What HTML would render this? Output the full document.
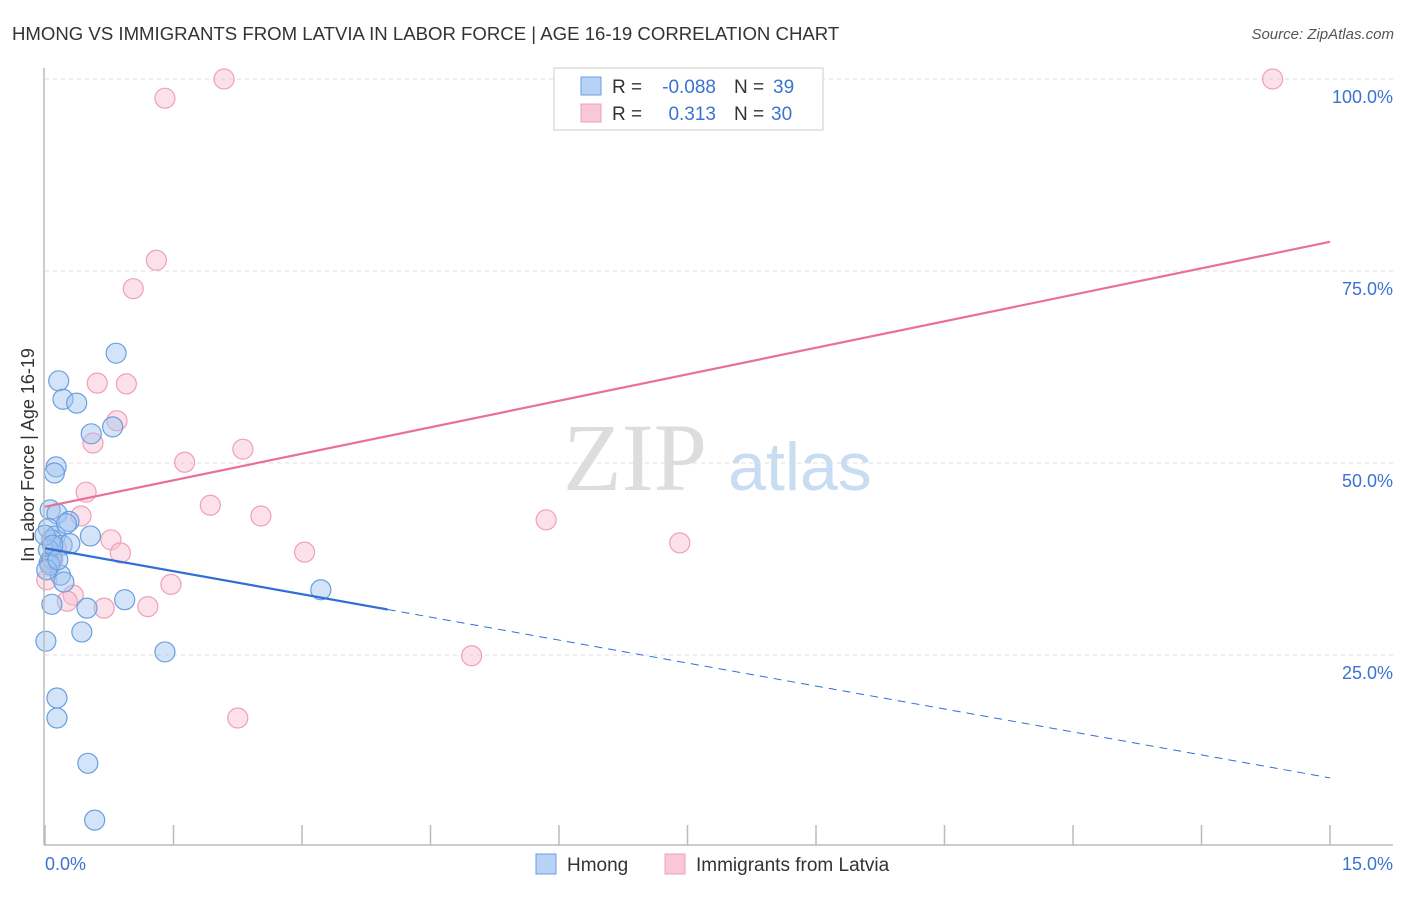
<!DOCTYPE html>
<html><head><meta charset="utf-8"><style>
body{margin:0;background:#fff;font-family:"Liberation Sans",sans-serif}
</style></head><body>
<svg id="c" width="1406" height="892" xmlns="http://www.w3.org/2000/svg" font-family="Liberation Sans, sans-serif">
<text x="12" y="40" font-size="18.6" fill="#333">HMONG VS IMMIGRANTS FROM LATVIA IN LABOR FORCE | AGE 16-19 CORRELATION CHART</text>
<text x="1394" y="39" font-size="15" fill="#555" font-style="italic" text-anchor="end">Source: ZipAtlas.com</text>
<text x="635" y="490" font-size="96" fill="#ddd" font-family="Liberation Serif, serif" text-anchor="middle">ZIP</text>
<text x="800" y="490" font-size="68" fill="#c8dcf2" text-anchor="middle">atlas</text>
<g id="grid"></g><g id="marks"></g>
<line x1="44" y1="68" x2="44" y2="845" stroke="#bbb" stroke-width="1.5"/>
<line x1="44" y1="845" x2="1393" y2="845" stroke="#bbb" stroke-width="1.5"/>
<text x="34" y="455" font-size="18" fill="#333" text-anchor="middle" transform="rotate(-90 34 455)">In Labor Force | Age 16-19</text>
<text x="45" y="870" font-size="18" fill="#3b73d0">0.0%</text>
<text x="1393" y="870" font-size="18" fill="#3b73d0" text-anchor="end">15.0%</text>
<g>
<rect x="554" y="68" width="269" height="62" fill="#fff" stroke="#ccc"/>
<rect x="581" y="77" width="20" height="18" fill="#b8d2f5" stroke="#6a9ee0"/>
<rect x="581" y="104" width="20" height="18" fill="#f9c8d8" stroke="#eea0b8"/>
<text x="612" y="93" font-size="19" fill="#333">R =</text>
<text x="716" y="93" font-size="19" fill="#3b73d0" text-anchor="end">-0.088</text>
<text x="734" y="93" font-size="19" fill="#333">N =</text>
<text x="773" y="93" font-size="19" fill="#3b73d0">39</text>
<text x="612" y="120" font-size="19" fill="#333">R =</text>
<text x="716" y="120" font-size="19" fill="#3b73d0" text-anchor="end">0.313</text>
<text x="734" y="120" font-size="19" fill="#333">N =</text>
<text x="771" y="120" font-size="19" fill="#3b73d0">30</text>
</g>
<g>
<rect x="536" y="854" width="20" height="20" fill="#b8d2f5" stroke="#6a9ee0"/>
<text x="567" y="871" font-size="19" fill="#333">Hmong</text>
<rect x="665" y="854" width="20" height="20" fill="#f9c8d8" stroke="#eea0b8"/>
<text x="696" y="871" font-size="19" fill="#333">Immigrants from Latvia</text>
</g>
</svg>
<script>
const yTicks=[25,50,75,100];
const yTickLabels=["25.0%","50.0%","75.0%","100.0%"];
const hmongX=[0.83,0.16,0.21,0.37,0.79,0.54,0.13,0.11,0.06,0.14,0.28,0.04,0.12,0.53,0.08,0.20,0.29,0.04,0.08,0.05,0.18,0.06,0.22,0.08,0.49,0.93,0.43,0.01,1.40,0.14,0.14,0.50,0.58,3.22,0.0,0.09,0.02,0.15,0.25];
const hmongY=[64.3,60.7,58.3,57.8,54.7,53.8,49.5,48.7,43.9,43.4,42.4,41.5,40.5,40.5,40.0,39.3,39.5,38.7,37.6,37.0,35.4,36.7,34.5,31.6,31.1,32.2,28.0,26.8,25.4,19.4,16.8,10.9,3.5,33.5,40.6,39.3,36.1,37.4,42.1];
const latviaX=[2.09,14.33,1.40,1.30,1.03,0.61,0.95,0.84,0.56,2.31,1.63,0.48,1.93,0.42,2.52,5.85,0.77,0.13,0.88,0.09,7.41,3.03,1.47,0.33,0.26,0.69,1.20,4.98,2.25,0.02];
const latviaY=[100,100,97.5,76.4,72.7,60.4,60.3,55.5,52.6,51.8,50.1,46.2,44.5,43.1,43.1,42.6,40.0,38.9,38.3,37.4,39.6,38.4,34.2,32.8,32.0,31.1,31.3,24.9,16.8,34.8];
const hmongTrend=[38.9,9.0];
const latviaTrend=[44.3,78.8];
const hmongSolidEnd=4.0;
const NS="http://www.w3.org/2000/svg";
const sx=v=>45+v/15*1285, sy=v=>847-v/100*768;
const grid=document.getElementById('grid'), marks=document.getElementById('marks');
function mk(tag,attrs,parent){const e=document.createElementNS(NS,tag);for(const k in attrs)e.setAttribute(k,attrs[k]);parent.appendChild(e);return e;}
yTicks.forEach((t,i)=>{
 const l=mk('line',{x1:45,x2:1393,y1:sy(t),y2:sy(t),stroke:'#ddd','stroke-dasharray':'4,4'},grid);
 
 
 const tx=mk('text',{x:1393,y:sy(t)+24,'font-size':18,fill:'#3b73d0','text-anchor':'end'},grid);
 tx.textContent=yTickLabels[i];
 
 
});
for(let i=0;i<=10;i++){
 const tk=mk('line',{x1:sx(i*1.5),x2:sx(i*1.5),y1:825,y2:845,stroke:'#bbb','stroke-width':1.5},grid);
 
 
}
latviaX.forEach((x,i)=>{
 const c=mk('circle',{cx:sx(x),cy:sy(latviaY[i]),r:10,fill:'rgba(248,188,208,0.45)',stroke:'#eea0b8','stroke-width':1.2},marks);
 
 
});
hmongX.forEach((x,i)=>{
 const c=mk('circle',{cx:sx(x),cy:sy(hmongY[i]),r:10,fill:'rgba(160,195,240,0.45)',stroke:'#6a9ee0','stroke-width':1.2},marks);
 
 
});
const hy=x=>hmongTrend[0]+(hmongTrend[1]-hmongTrend[0])*x/15;
const pl=mk('line',{x1:sx(0),y1:sy(latviaTrend[0]),x2:sx(15),y2:sy(latviaTrend[1]),stroke:'#e8709a','stroke-width':2.2},marks);


const bl=mk('line',{x1:sx(0),y1:sy(hy(0)),x2:sx(hmongSolidEnd),y2:sy(hy(hmongSolidEnd)),stroke:'#2f6fd6','stroke-width':2.2},marks);


const bd=mk('line',{x1:sx(hmongSolidEnd),y1:sy(hy(hmongSolidEnd)),x2:sx(15),y2:sy(hy(15)),stroke:'#2f6fd6','stroke-width':1,'stroke-dasharray':'8,6'},marks);


</script>
</body></html>
